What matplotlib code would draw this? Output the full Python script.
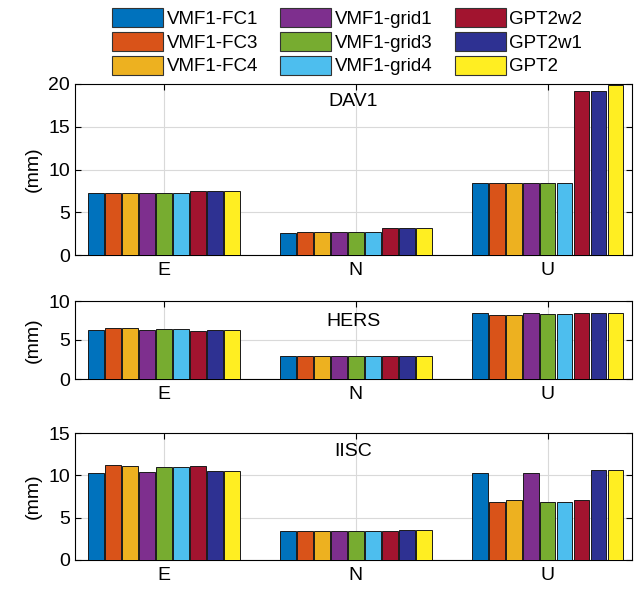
import numpy as np
import matplotlib
matplotlib.use("Agg")
import matplotlib.pyplot as plt
from matplotlib.patches import Patch

plt.rcParams['font.family'] = ['Liberation Sans', 'DejaVu Sans']

models = ["VMF1-FC1", "VMF1-FC3", "VMF1-FC4", "VMF1-grid1", "VMF1-grid3",
          "VMF1-grid4", "GPT2w2", "GPT2w1", "GPT2"]
colors = ["#0072BD", "#D95319", "#EDB120", "#7E2F8E", "#77AC30",
          "#4DBEEE", "#A2142F", "#2E3192", "#FFEE22"]
components = ["E", "N", "U"]

# rows: E, N, U ; columns: models
dav1 = [[7.2, 7.2, 7.2, 7.3, 7.3, 7.3, 7.5, 7.5, 7.5],
        [2.6, 2.7, 2.7, 2.7, 2.7, 2.7, 3.1, 3.1, 3.1],
        [8.4, 8.4, 8.4, 8.4, 8.4, 8.4, 19.2, 19.2, 19.9]]
hers = [[6.3, 6.5, 6.5, 6.3, 6.4, 6.4, 6.1, 6.3, 6.3],
        [2.9, 2.9, 2.9, 2.9, 2.9, 2.9, 3.0, 3.0, 3.0],
        [8.5, 8.2, 8.2, 8.5, 8.3, 8.3, 8.4, 8.5, 8.5]]
iisc = [[10.3, 11.2, 11.1, 10.4, 11.0, 11.0, 11.1, 10.5, 10.5],
        [3.4, 3.4, 3.4, 3.4, 3.4, 3.4, 3.4, 3.5, 3.5],
        [10.3, 6.8, 7.1, 10.3, 6.8, 6.9, 7.1, 10.6, 10.6]]

stations = ["DAV1", "HERS", "IISC"]
station_data = [dav1, hers, iisc]
ylims = [20, 10, 15]
yticks = [[0, 5, 10, 15, 20], [0, 5, 10], [0, 5, 10, 15]]

W, H = 638, 594
fig = plt.figure(figsize=(W / 100, H / 100), dpi=100)

# axes boxes in pixels: (top, bottom)
boxes = [(84, 255), (301, 379), (433, 560)]
title_off = [17, 20, 19]
left, right = 75, 632

x = np.arange(1, 4)
step = 0.0885
bw = 0.082

for k, (top, bot) in enumerate(boxes):
    ax = fig.add_axes([left / W, 1 - bot / H, (right - left) / W, (bot - top) / H])
    data = np.array(station_data[k])
    for j in range(len(models)):
        ax.bar(x + (j - 4) * step, data[:, j], width=bw, color=colors[j],
               edgecolor="#1a1a1a", linewidth=0.7, zorder=3)
    ax.set_xlim(0.535, 3.44)
    ax.set_ylim(0, ylims[k])
    ax.set_yticks(yticks[k])
    ax.set_xticks(x)
    ax.set_xticklabels(components)
    ax.grid(True, color="#d9d9d9", linewidth=0.8, zorder=0)
    ax.tick_params(direction="in", top=True, right=True, labelsize=14,
                   length=4, width=0.8)
    ax.tick_params(axis="x", pad=5)
    for s in ax.spines.values():
        s.set_linewidth(0.8)
    ax.set_ylabel("(mm)", fontsize=14, labelpad=5)
    ax.text(0.5, 1 - title_off[k] / (bot - top), stations[k], transform=ax.transAxes,
            ha="center", va="center", fontsize=14, zorder=5)

handles = [Patch(facecolor=c, edgecolor="#333333", linewidth=0.8) for c in colors]
fig.legend(handles, models, loc="upper left", bbox_to_anchor=(99 / W, 1 + 5 / H),
           ncol=3, frameon=False, fontsize=13.5, handlelength=2.7, handleheight=1.2,
           handletextpad=0.2, columnspacing=1.2, labelspacing=0.2, borderpad=0.2)

fig.savefig("out.png", dpi=100)
